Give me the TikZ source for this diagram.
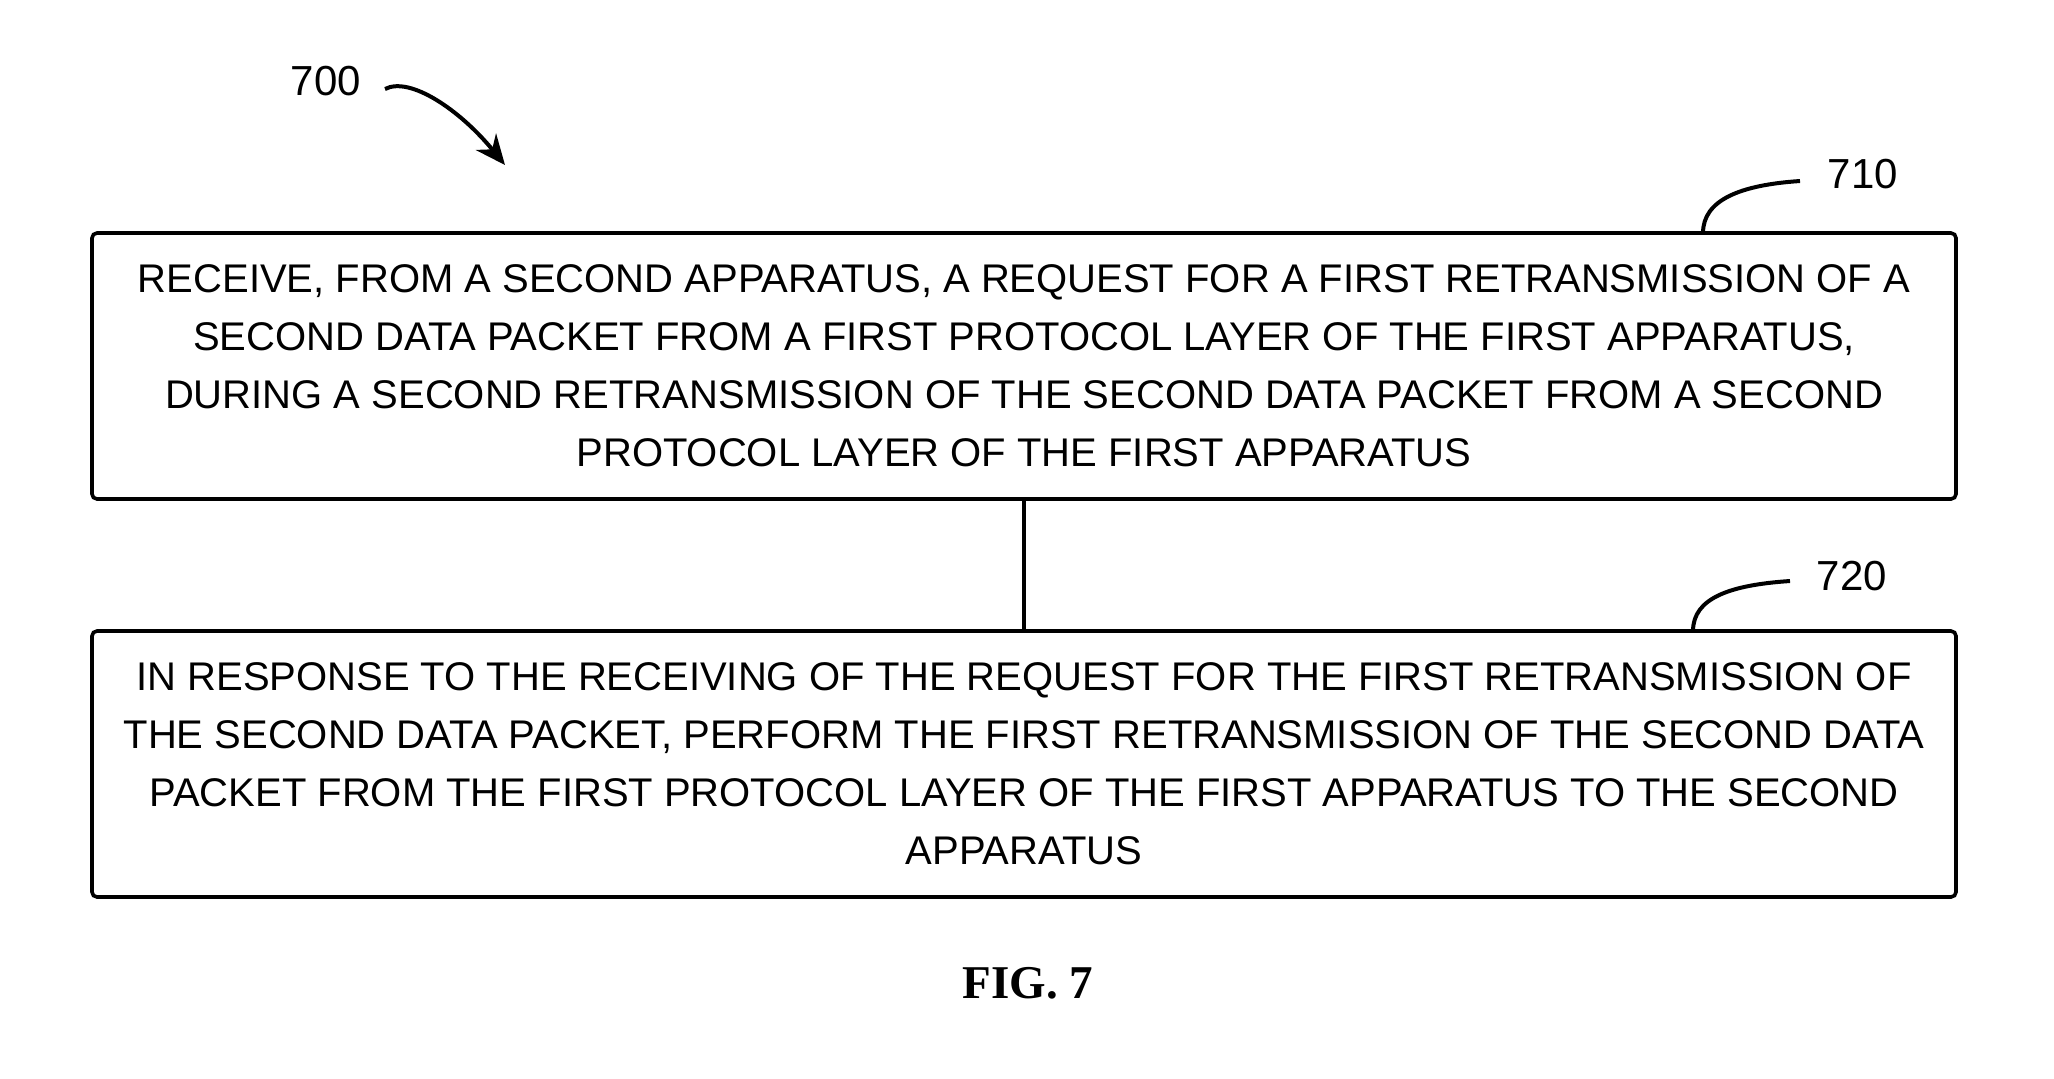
\documentclass[tikz,border=0pt]{standalone}
\usepackage{fontspec}
\setmainfont{Liberation Sans}
\newfontfamily\figfont{Liberation Serif}
\usepackage{tikz}
\usetikzlibrary{arrows.meta}

\begin{document}
\begin{tikzpicture}[x=0.5pt,y=-0.5pt,
    flowbox/.style={draw, line width=1.8pt, rounded corners=2.5pt, inner sep=0pt,
      minimum width=932pt, minimum height=133pt, align=center,
      font=\fontsize{20pt}{29pt}\selectfont},
    reflabel/.style={inner sep=0pt, font=\fontsize{21pt}{24pt}\selectfont},
    callout/.style={line width=2pt}]
  \useasboundingbox (0,0) rectangle (2054,1078);
  \node[flowbox] (b710) at (1024,366) {RECEIVE, FROM A SECOND APPARATUS, A REQUEST FOR A FIRST RETRANSMISSION OF A\\
    SECOND DATA PACKET FROM A FIRST PROTOCOL LAYER OF THE FIRST APPARATUS,\\
    DURING A SECOND RETRANSMISSION OF THE SECOND DATA PACKET FROM A SECOND\\
    PROTOCOL LAYER OF THE FIRST APPARATUS};
  \node[flowbox] (b720) at (1024,764) {IN RESPONSE TO THE RECEIVING OF THE REQUEST FOR THE FIRST RETRANSMISSION OF\\
    THE SECOND DATA PACKET, PERFORM THE FIRST RETRANSMISSION OF THE SECOND DATA\\
    PACKET FROM THE FIRST PROTOCOL LAYER OF THE FIRST APPARATUS TO THE SECOND\\
    APPARATUS};
  \draw[line width=1.8pt] (b710.south) -- (b720.north);
  \node[reflabel] (l700) at (326,81) {700};
  \node[reflabel] (l710) at (1863,174) {710};
  \node[reflabel] (l720) at (1852,576) {720};
  \coordinate (s700) at (385,89);
  \coordinate (e700) at (505,165);
  \coordinate (s710) at (1703,233);
  \coordinate (e710) at (1800,181);
  \coordinate (s720) at (1693,631);
  \coordinate (e720) at (1790,581);
  \draw[callout,-{Stealth[length=15pt,width=13pt]}] (s700) .. controls (410,76) and (460,110) .. (e700);
  \draw[callout] (s710) .. controls (1703,200) and (1740,185) .. (e710);
  \draw[callout] (s720) .. controls (1693,598) and (1730,585) .. (e720);
  \node[inner sep=0pt, font=\figfont\bfseries\fontsize{23.5pt}{27pt}\selectfont] (fig) at (1028,983) {FIG. 7};
\end{tikzpicture}
\end{document}
